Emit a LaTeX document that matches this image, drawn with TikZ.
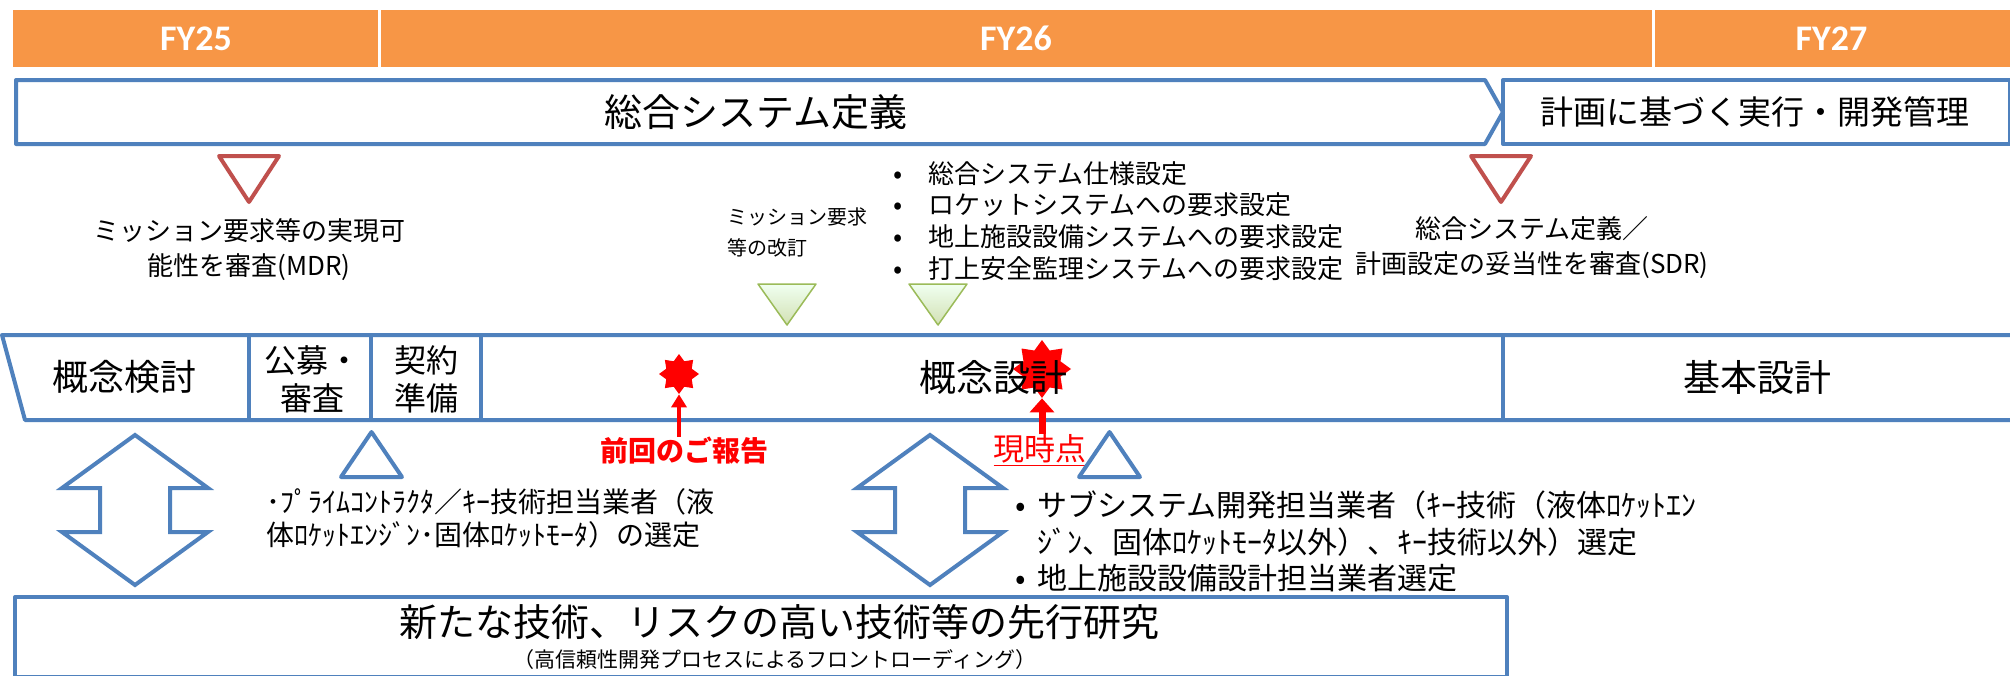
\documentclass[tikz,border=0pt]{standalone}
\usepackage{fontspec}
\setmainfont{Noto Sans CJK JP}
\newfontfamily\fyfont{Carlito}
\usetikzlibrary{shapes.geometric,arrows.meta}
\definecolor{planorange}{HTML}{F79646}
\definecolor{planblue}{HTML}{4F81BD}
\definecolor{reviewred}{HTML}{C0504D}
\definecolor{milegreen}{HTML}{9BBB59}
\newcommand\fsz[2]{\fontsize{#1}{#2}\selectfont}
\newcommand\bigdot[1]{{\fontsize{#1}{#1}\selectfont •}}
\tikzset{
  fy cell/.style={
    fill=planorange,text=white,inner sep=0,minimum height=57,
    font=\fyfont\bfseries\fsz{36}{40}
  },
  blue frame/.style={draw=planblue,line width=4,line join=round},
  review mark/.style={draw=reviewred,line width=4,line join=round},
  revise mark/.style={
    draw=milegreen,line width=1.5,line join=round,
    top color=green!6!white,bottom color=milegreen!45!white
  },
  select mark/.style={draw=planblue,line width=4,fill=white,line join=round},
  burst/.style={star,star points=8,star point ratio=1.45,fill=red,inner sep=0},
  label txt/.style={inner sep=0,align=center},
  pics/swap arrow/.style={
    code={
      \draw[blue frame,line join=miter] (0,-75) -- (73,-22) -- (35,-22) -- (35,22)
        -- (73,22) -- (0,75) -- (-73,22) -- (-35,22) -- (-35,-22) -- (-73,-22) -- cycle;
    }
  }
}

\begin{document}
\begin{tikzpicture}[x=1pt,y=-1pt]
\fill[white,use as bounding box] (0,0) rectangle (2010,675);

% fiscal years
\node[fy cell,minimum width=366] (fy25) at (196,38.5) {FY25};
\node[fy cell,minimum width=1274] (fy26) at (1016,38.5) {FY26};
\node[fy cell,minimum width=357] (fy27) at (1831.5,38.5) {FY27};
\draw[white,line width=3] (fy25.north east) -- (fy25.south east);
\draw[white,line width=3] (fy26.north east) -- (fy26.south east);

% system definition
\draw[blue frame] (16,80) -- (1485,80) -- (1503,112) -- (1485,144) -- (16,144) -- cycle;
\node[label txt,font=\fsz{38}{44}] (sysdef) at (756,112) {総合システム定義};
\draw[blue frame] (1503,80) rectangle (2010,144);
\node[label txt,font=\fsz{33}{40}] (planexec) at (1755,112) {計画に基づく実行・開発管理};

% reviews
\draw[review mark] (219,156) -- ++(60,0) -- ++(-30,46) -- cycle;
\node[label txt,font=\fsz{26}{35}] (mdr) at (249,249.5) {ミッション要求等の実現可\\能性を審査(MDR)};
\draw[review mark] (1471,156) -- ++(60,0) -- ++(-30,46) -- cycle;
\node[label txt,font=\fsz{26}{35}] (sdr) at (1532,248) {総合システム定義／\\計画設定の妥当性を審査(SDR)};

% revisions
\draw[revise mark] (758,284) -- ++(58,0) -- ++(-29,41) -- cycle;
\draw[revise mark] (909,284) -- ++(58,0) -- ++(-29,41) -- cycle;
\node[label txt,align=left,anchor=west,font=\fsz{20}{31}] (missrev) at (727,232.5) {ミッション要求\\等の改訂};
\node[label txt,align=left,anchor=west,font=\fsz{26}{31.7}] (specs) at (893,221) {%
  \makebox[35pt][l]{\bigdot{27}}総合システム仕様設定\\
  \makebox[35pt][l]{\bigdot{27}}ロケットシステムへの要求設定\\
  \makebox[35pt][l]{\bigdot{27}}地上施設設備システムへの要求設定\\
  \makebox[35pt][l]{\bigdot{27}}打上安全監理システムへの要求設定};

% phases
\draw[blue frame] (2014,335) -- (2,335) -- (25,420) -- (2014,420);
\foreach \px in {249,371,481,1503}
  \draw[blue frame] (\px,335) -- (\px,420);

\node[burst,minimum size=40] (prevstar) at (679,374) {};
\node[burst,minimum size=58] (nowstar) at (1042,369) {};
\node[label txt,text=red,font=\bfseries\fsz{28}{32}] (prevrep) at (684,451) {前回のご報告};
\node[label txt,text=red,font=\fsz{31}{34}] (nowpt) at (1040,450) {\underline{現時点}};
\draw[red,line width=3.5,-{Triangle[width=15,length=13]}] (prevrep.north -| prevstar) -- (prevstar.south);
\draw[red,line width=7,-{Triangle[width=24,length=14]}] (nowpt.north -| nowstar) -- (nowstar.south);

\node[label txt,font=\fsz{36}{40}] (cstudy) at (124,377) {概念検討};
\node[label txt,font=\fsz{32}{38}] (tender) at (312,379) {公募・\\審査};
\node[label txt,font=\fsz{32}{38}] (contract) at (426,379) {契約\\準備};
\node[label txt,font=\fsz{37}{40}] (cdesign) at (993,377) {概念設計};
\node[label txt,font=\fsz{37}{40}] (bdesign) at (1757,377) {基本設計};

% selections
\draw[select mark] (341,477) -- ++(61,0) -- ++(-30.5,-45) -- cycle;
\draw[select mark] (1079,477) -- ++(61,0) -- ++(-30.5,-45) -- cycle;
\node[label txt,align=left,anchor=west,font=\fsz{28}{33}] (primesel) at (266,518.5) {%
  ･ﾌﾟﾗｲﾑｺﾝﾄﾗｸﾀ／ｷｰ技術担当業者（液\\
  体ﾛｹｯﾄｴﾝｼﾞﾝ･固体ﾛｹｯﾄﾓｰﾀ）の選定};
\node[label txt,align=left,anchor=west,font=\fsz{30}{36.5}] (subsel) at (1015,541.5) {%
  \makebox[22pt][l]{\bigdot{31}}サブシステム開発担当業者（ｷｰ技術（液体ﾛｹｯﾄｴﾝ\\
  \hspace*{22pt}ｼﾞﾝ、固体ﾛｹｯﾄﾓｰﾀ以外）、ｷｰ技術以外）選定\\
  \makebox[22pt][l]{\bigdot{31}}地上施設設備設計担当業者選定};

\pic at (135,510) {swap arrow};
\pic at (930,510) {swap arrow};

% advance research
\draw[blue frame] (15,597) rectangle (1507,677);
\node[label txt,font=\fsz{38}{44}] (presearch) at (779,622) {新たな技術、リスクの高い技術等の先行研究};
\node[label txt,font=\fsz{21}{25}] (frontload) at (775,660) {（高信頼性開発プロセスによるフロントローディング）};
\end{tikzpicture}
\end{document}
